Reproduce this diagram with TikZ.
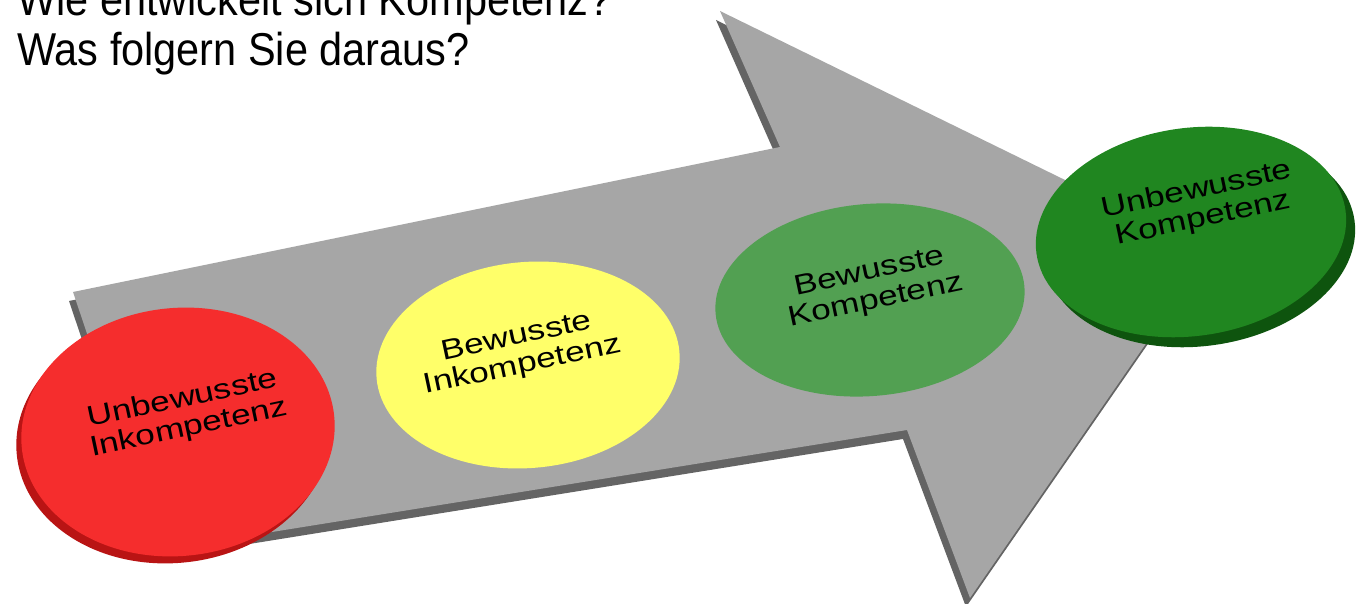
\documentclass[tikz,border=0pt]{standalone}
\usepackage{fontspec}
\setmainfont{Liberation Sans}
\definecolor{arrowtop}{RGB}{166,166,166}
\definecolor{arrowside}{RGB}{100,100,100}
\definecolor{redtop}{RGB}{245,45,45}
\definecolor{redside}{RGB}{185,20,20}
\definecolor{yellowtop}{RGB}{255,255,105}
\definecolor{greentop}{RGB}{82,160,82}
\definecolor{darkgreentop}{RGB}{32,134,32}
\definecolor{darkgreenside}{RGB}{14,84,14}
\tikzset{
  question/.style={anchor=base west,xscale=0.9,font=\fontsize{13.1}{14}\selectfont},
  stagetext/.style={align=center,font=\fontsize{10}{10.4}\selectfont,rotate=12,yscale=0.8},
}
\begin{document}
\begin{tikzpicture}[x=0.01cm,y=-0.01cm]
\useasboundingbox (0,0) rectangle (1359,604);
\clip (0,0) rectangle (1359,604);
\fill[white] (0,0) rectangle (1359,604);
% question
\node[question] (q1) at (6,16) {Wie entwickelt sich Kompetenz?};
\node[question] (q2) at (6,66) {Was folgern Sie daraus?};
% arrow: side, then top
\begin{scope}[shift={(-4,9)}]
\fill[arrowside] (73,292) -- (780,147) -- (720,11) -- (1210,251) -- (970,598) -- (907,430) -- (160,550) -- cycle;
\end{scope}
\fill[arrowtop] (73,292) -- (780,147) -- (720,11) -- (1210,251) -- (970,598) -- (907,430) -- (160,550) -- cycle;
% stages
\fill[redside,rotate around={6:(173,439)}] (173,439) ellipse [x radius=157,y radius=124];
\fill[redtop,rotate around={6:(178,432)}] (178,432) ellipse [x radius=157,y radius=124];
\fill[yellowtop,rotate around={5:(528,365)}] (528,365) ellipse [x radius=152,y radius=103];
\fill[greentop,rotate around={5:(870,300)}] (870,300) ellipse [x radius=155,y radius=96];
\fill[darkgreenside,rotate around={8:(1200,242)}] (1200,242) ellipse [x radius=156,y radius=104];
\fill[darkgreentop,rotate around={8:(1191,232)}] (1191,232) ellipse [x radius=156,y radius=104];
\node[stagetext] (s1) at (186,414) {Unbewusste\\Inkompetenz};
\node[stagetext] (s2) at (520,352) {Bewusste\\Inkompetenz};
\node[stagetext] (s3) at (873,287) {Bewusste\\Kompetenz};
\node[stagetext] (s4) at (1200,205) {Unbewusste\\Kompetenz};
\end{tikzpicture}
\end{document}
